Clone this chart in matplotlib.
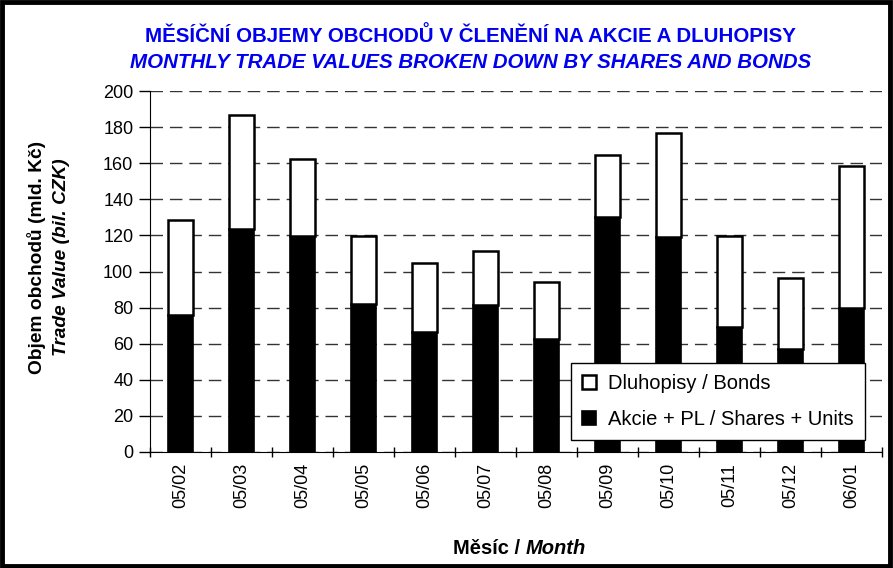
import numpy as np
import matplotlib
matplotlib.use('Agg')
import matplotlib.pyplot as plt
from matplotlib.patches import Rectangle

months = ['05/02', '05/03', '05/04', '05/05', '05/06', '05/07',
          '05/08', '05/09', '05/10', '05/11', '05/12', '06/01']
totals = [128.5, 186.5, 162.5, 119.8, 104.6, 111.1,
          94.1, 164.8, 176.5, 119.8, 96.3, 158.7]
shares = [76.0, 123.5, 119.4, 81.9, 66.7, 81.5,
          62.4, 130.2, 119.1, 69.5, 57.1, 80.0]
bonds = [t - s for t, s in zip(totals, shares)]

title_cz = 'MĚSÍČNÍ OBJEMY OBCHODŮ V ČLENĚNÍ NA AKCIE A DLUHOPISY'
title_en = 'MONTHLY TRADE VALUES BROKEN DOWN BY SHARES AND BONDS'

plt.rcParams['font.family'] = ['Liberation Sans', 'DejaVu Sans']

fig = plt.figure(figsize=(8.93, 5.68), dpi=100)
ax = fig.add_axes([150 / 893, 1 - 452 / 568, 732 / 893, 361 / 568])

x = np.arange(len(months))
w = 0.42
ax.bar(x, shares, w, color='black', edgecolor='black', linewidth=1.2,
       label='Akcie + PL / Shares + Units', zorder=3)
ax.bar(x, bonds, w, bottom=shares, color='white', edgecolor='black', linewidth=1.8,
       label='Dluhopisy / Bonds', zorder=3)

ax.set_xlim(-0.5, len(months) - 0.5)
ax.set_ylim(0, 200)
ax.set_yticks(range(0, 201, 20))
ax.set_xticks(x)
ax.set_xticklabels(months, rotation=90, fontsize=13)
ax.tick_params(axis='x', length=0, pad=8)
ax.set_xticks(np.arange(-0.5, len(months)), minor=True)
ax.tick_params(axis='x', which='minor', length=7, direction='inout', width=1)
ax.tick_params(axis='y', length=8, direction='out', width=1, labelsize=13, pad=4)
for s in ['top', 'right']:
    ax.spines[s].set_visible(False)
ax.yaxis.grid(True, linestyle=(0, (9, 5)), color='#333333', linewidth=1, zorder=0)
ax.set_axisbelow(True)

h, l = ax.get_legend_handles_labels()
leg = ax.legend(h[::-1], l[::-1], loc='lower right', bbox_to_anchor=(0.977, 0.033),
                borderaxespad=0, fontsize=14.5, frameon=True, fancybox=False,
                edgecolor='black', handlelength=0.7, handleheight=0.7,
                handletextpad=0.6, labelspacing=0.85, borderpad=0.55, framealpha=1)
leg.get_frame().set_linewidth(1)

fig.text(0.527, 1 - 36 / 568, title_cz, ha='center', va='center', color='#0000ee',
         fontsize=14.8, fontweight='bold')
fig.text(0.527, 1 - 62 / 568, title_en, ha='center', va='center', color='#0000ee',
         fontsize=14.8, fontweight='bold', style='italic')

fig.text(37 / 893, 1 - 257 / 568, 'Objem obchodů (mld. Kč)', rotation=90,
         ha='center', va='center', fontsize=13.8, fontweight='bold')
fig.text(62 / 893, 1 - 257 / 568, 'Trade Value (bil. CZK)', rotation=90,
         ha='center', va='center', fontsize=13.8, fontweight='bold', style='italic')

fig.text(526 / 893, 1 - 548 / 568, 'Měsíc / ', ha='right', va='center',
         fontsize=14.5, fontweight='bold')
fig.text(526 / 893, 1 - 548 / 568, 'Month', ha='left', va='center',
         fontsize=14.5, fontweight='bold', style='italic')

fig.patches.append(Rectangle((0.002, 0.003), 0.995, 0.994, transform=fig.transFigure,
                             fill=False, edgecolor='black', linewidth=3.5))

fig.savefig('out.png', dpi=100)
